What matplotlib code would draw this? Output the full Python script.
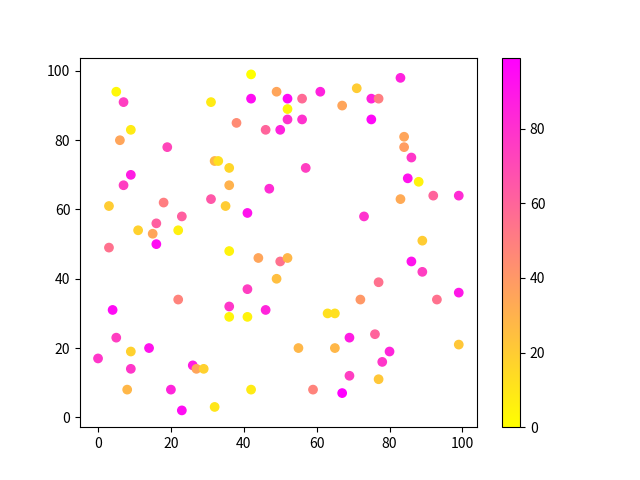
import matplotlib
matplotlib.use('Agg')
from matplotlib import pyplot as plt

x = [42, 5, 49, 7, 31, 42, 38, 46, 50, 9, 6, 19, 32, 33, 36, 36, 9, 7, 47, 3,
     18, 31, 35, 41, 23, 16, 11, 22, 15, 16, 3,
     83, 71, 61, 52, 56, 75, 77, 52, 67, 52, 56, 75, 84, 84, 86, 57, 85, 88, 83,
     92, 99, 73, 89,
     36, 44, 50, 52, 49, 41, 22, 4, 36, 46, 36, 41, 5, 9, 14, 0, 9, 26, 27, 29,
     8, 20, 42, 23, 32,
     86, 89, 77, 72, 93, 99, 63, 65, 69, 76, 55, 65, 80, 78, 99, 69, 77, 59, 67]
y = [99, 94, 94, 91, 91, 92, 85, 83, 83, 83, 80, 78, 74, 74, 72, 67, 70, 67, 66, 61,
     62, 63, 61, 59, 58, 56, 54, 54, 53, 50, 49,
     98, 95, 94, 92, 92, 92, 92, 89, 90, 86, 86, 86, 81, 78, 75, 72, 69, 68, 63,
     64, 64, 58, 51,
     48, 46, 45, 46, 40, 37, 34, 31, 32, 31, 29, 29, 23, 19, 20, 17, 14, 15, 14, 14,
     8, 8, 8, 2, 3,
     45, 42, 39, 34, 34, 36, 30, 30, 23, 24, 20, 20, 19, 16, 21, 12, 11, 8, 7]
c = [0, 3, 35, 75, 8, 94, 45, 60, 86, 8, 35, 72, 28, 12, 16, 30, 88, 75, 82, 20,
     50, 65, 20, 92, 62, 62, 18, 6, 35, 94, 55,
     86, 20, 86, 95, 58, 86, 50, 4, 35, 80, 80, 96, 35, 38, 78, 75, 92, 5, 33,
     60, 82, 80, 20,
     5, 35, 55, 28, 25, 75, 48, 95, 78, 85, 4, 5, 75, 18, 92, 78, 78, 88, 35, 18,
     28, 85, 8, 94, 10,
     92, 75, 55, 40, 55, 90, 12, 12, 88, 60, 28, 28, 85, 78, 22, 75, 22, 48, 99]

plt.rcParams['font.family'] = ['Noto Sans CJK SC', 'DejaVu Sans']

fig, ax = plt.subplots()
sc = ax.scatter(x, y, c=c, cmap='spring_r')
fig.colorbar(sc)

plt.savefig('out.png')
